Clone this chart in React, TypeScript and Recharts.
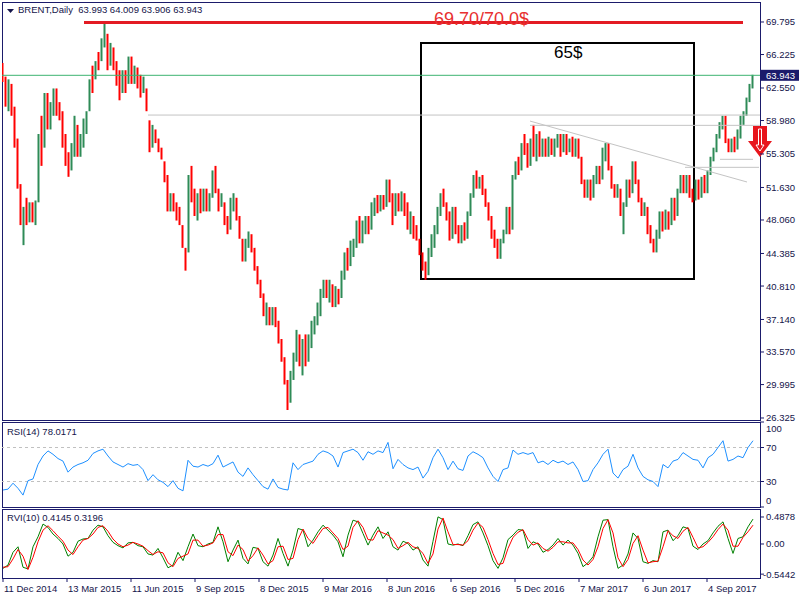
import React from 'react';
import {
  ComposedChart,
  Bar,
  Cell,
  Line,
  XAxis,
  YAxis,
  ReferenceLine,
  ReferenceArea,
  ReferenceDot,
} from 'recharts';

// ---------- DATA ----------
// Each candle aggregates 3 trading days (1 px per day on the time scale)
const BAR_DAYS = 3;
const barOpen = [
  65.3, 63.8, 60.0, 63.0, 60.5, 57.0, 52.0, 45.3, 50.5, 47.8, 50.0, 47.5, 50.0, 59.5, 56.0, 62.0, 58.0, 59.5, 62.5, 61.0,
  60.0, 57.5, 55.5, 53.5, 55.0, 58.5, 55.0, 56.0, 57.5, 60.0, 65.0, 63.5, 66.5, 65.5, 67.0, 68.5, 65.0, 67.0, 65.5, 64.5,
  62.0, 64.5, 63.0, 66.0, 63.0, 64.8, 64.0, 62.0, 62.5, 59.0, 56.0, 58.0, 57.0, 56.0, 54.5, 53.0, 49.0, 51.0, 50.0, 49.5,
  47.5, 45.0, 44.5, 54.0, 51.5, 48.0, 51.5, 49.0, 51.5, 49.0, 50.5, 54.0, 51.5, 49.5, 50.0, 48.5, 47.0, 49.0, 50.5, 48.5,
  46.0, 43.5, 45.0, 46.5, 45.0, 43.0, 41.5, 40.0, 36.5, 38.5, 36.5, 38.5, 37.0, 35.0, 33.0, 30.5, 28.0, 30.5, 32.5, 35.5,
  31.0, 35.5, 32.5, 34.0, 35.5, 36.5, 37.5, 39.5, 41.5, 39.0, 41.0, 38.5, 40.5, 39.5, 41.5, 45.0, 43.0, 44.0, 45.0, 48.5,
  45.5, 46.5, 48.5, 47.0, 48.5, 50.8, 49.0, 50.8, 49.5, 52.5, 51.0, 48.5, 51.0, 49.0, 51.0, 50.0, 46.5, 48.5, 47.5, 46.0,
  44.5, 43.5, 42.0, 44.0, 45.0, 46.5, 48.5, 51.5, 50.0, 49.0, 46.0, 49.5, 47.5, 45.5, 47.8, 46.0, 48.5, 50.5, 53.5, 51.5,
  53.0, 51.5, 50.0, 48.5, 47.0, 46.0, 43.8, 45.5, 46.5, 49.5, 47.0, 52.5, 55.0, 53.5, 57.5, 56.5, 54.0, 58.5, 54.5, 57.8,
  55.0, 57.0, 55.0, 57.0, 55.0, 56.0, 57.5, 55.5, 57.5, 55.5, 57.2, 55.0, 57.0, 55.0, 52.5, 50.5, 52.5, 50.5, 52.0, 54.0,
  52.5, 54.5, 56.5, 54.0, 52.0, 50.5, 51.5, 46.5, 49.5, 52.5, 51.0, 54.5, 52.5, 50.5, 48.5, 49.5, 47.5, 46.0, 44.5, 46.0,
  49.0, 47.0, 49.0, 47.5, 50.5, 48.5, 51.0, 53.0, 51.0, 53.0, 51.5, 50.2, 52.5, 50.5, 53.0, 51.0, 53.0, 54.5, 55.5, 57.0,
  58.0, 59.5, 57.0, 55.5, 57.2, 55.8, 57.0, 58.5, 59.5, 61.0, 62.5,
];
const barClose = [
  63.2, 60.5, 63.5, 59.5, 56.0, 51.5, 47.5, 49.5, 47.5, 50.0, 47.8, 50.2, 57.5, 54.0, 62.0, 58.0, 61.0, 62.5, 59.5, 59.0,
  56.0, 54.0, 52.8, 56.5, 59.5, 55.0, 57.5, 59.2, 60.0, 63.5, 62.0, 65.5, 64.5, 68.0, 69.6, 64.5, 67.5, 64.5, 62.8, 61.2,
  64.5, 62.0, 66.0, 63.0, 65.0, 62.5, 61.5, 63.8, 60.0, 55.5, 58.5, 56.5, 55.5, 54.7, 52.2, 49.0, 51.0, 49.0, 48.0, 47.5,
  45.0, 42.5, 53.0, 50.0, 48.5, 51.0, 48.8, 51.5, 49.0, 51.0, 53.5, 51.0, 49.0, 51.0, 47.5, 46.5, 50.5, 51.0, 48.0, 46.0,
  43.5, 46.0, 46.8, 44.5, 42.5, 41.0, 39.5, 37.5, 39.0, 36.5, 38.5, 36.3, 34.5, 32.5, 30.0, 27.2, 31.5, 33.5, 36.0, 32.0,
  35.0, 32.0, 35.5, 37.0, 37.5, 39.0, 40.5, 41.5, 39.5, 41.5, 38.5, 40.8, 38.8, 42.5, 44.5, 42.5, 45.8, 46.0, 48.0, 45.5,
  48.0, 48.5, 46.5, 50.0, 50.5, 48.8, 50.8, 49.2, 52.5, 50.0, 47.5, 51.0, 49.0, 51.2, 48.5, 47.0, 49.0, 46.0, 45.8, 44.2,
  42.5, 41.5, 45.0, 46.5, 47.5, 49.5, 51.0, 49.5, 48.0, 45.8, 49.5, 46.5, 45.5, 47.5, 45.8, 49.0, 51.0, 53.0, 51.5, 52.8,
  50.8, 49.5, 48.0, 46.0, 45.0, 43.8, 46.0, 47.0, 49.5, 46.5, 53.0, 54.5, 53.0, 56.5, 55.2, 53.8, 57.0, 55.0, 57.5, 55.0,
  57.0, 55.0, 57.2, 55.2, 57.0, 57.5, 55.0, 57.5, 55.2, 57.0, 55.0, 57.0, 54.8, 52.0, 50.5, 52.5, 50.2, 53.0, 54.0, 52.0,
  56.0, 56.5, 53.5, 51.5, 50.5, 52.0, 48.5, 50.0, 52.5, 50.5, 54.5, 52.0, 50.0, 48.5, 50.0, 46.5, 45.5, 44.5, 47.0, 49.0,
  46.8, 49.2, 47.0, 50.5, 48.0, 51.5, 53.0, 51.0, 53.0, 50.5, 50.0, 52.5, 50.3, 52.8, 51.0, 53.5, 55.0, 56.0, 57.5, 58.8,
  59.5, 56.5, 55.5, 57.0, 55.5, 58.0, 59.5, 60.0, 61.5, 63.0, 64.0,
];

// Indicators sampled every 5 trading days
const IND_DAYS = 5;
const rsi = [
  20, 21, 28, 22, 14, 31, 33, 50, 60, 66,
  62, 57, 54, 41, 47, 50, 52, 55, 63, 66,
  68, 60, 53, 50, 47, 51, 49, 50, 44, 31,
  38, 32, 29, 24, 31, 22, 19, 55, 48, 47,
  50, 48, 51, 61, 47, 50, 53, 41, 36, 46,
  38, 31, 24, 21, 33, 23, 21, 20, 52, 44,
  50, 52, 54, 62, 66, 64, 60, 47, 64, 66,
  68, 64, 55, 65, 62, 66, 64, 76, 45, 56,
  50, 46, 44, 47, 34, 42, 58, 68, 58, 44,
  54, 45, 43, 60, 65, 62, 58, 46, 36, 30,
  44, 46, 67, 62, 64, 62, 64, 52, 54, 50,
  55, 52, 54, 50, 53, 44, 30, 31, 44, 52,
  62, 68, 40, 34, 44, 48, 62, 46, 36, 32,
  30, 24, 50, 46, 54, 56, 64, 60, 56, 55,
  46, 58, 62, 70, 78, 54, 56, 60, 58, 70,
  78,
];
const rvi = [
  -0.44, -0.38, -0.15, -0.05, -0.42, -0.45, -0.05, 0.13, 0.36, 0.30,
  0.18, 0.10, 0.00, -0.22, -0.15, 0.05, 0.09, 0.10, 0.25, 0.34,
  0.31, 0.15, 0.03, -0.03, -0.07, 0.02, 0.03, -0.03, -0.05, -0.18,
  -0.20, -0.08, -0.25, -0.43, -0.38, -0.15, -0.30, -0.05, 0.18, -0.03,
  -0.05, 0.00, 0.03, 0.31, 0.04, -0.32, -0.11, 0.07, -0.26, -0.36,
  -0.06, -0.08, -0.32, -0.40, -0.20, 0.10, -0.17, -0.40, -0.11, 0.28,
  0.25, -0.05, 0.07, 0.22, 0.34, 0.25, 0.16, 0.04, -0.23, 0.16,
  0.43, 0.40, 0.19, -0.02, 0.16, 0.31, 0.10, 0.22, -0.05, -0.11,
  0.05, 0.01, -0.11, -0.05, -0.29, -0.40, 0.05, 0.49, 0.44, 0.00,
  -0.02, 0.00, -0.03, 0.15, 0.35, 0.40, 0.20, -0.03, -0.30, -0.44,
  -0.25, 0.08, 0.16, 0.26, 0.25, -0.08, 0.04, 0.00, -0.15, -0.10,
  -0.02, 0.10, -0.02, 0.07, -0.02, -0.17, -0.41, -0.34, -0.23, 0.13,
  0.43, 0.44, -0.05, -0.44, -0.38, -0.18, 0.20, 0.10, -0.32, -0.35,
  -0.30, -0.32, 0.22, 0.25, 0.06, 0.15, 0.31, 0.28, -0.04, -0.10,
  0.00, 0.06, 0.20, 0.32, 0.40, 0.10, -0.17, 0.10, 0.13, 0.31,
  0.45,
];
const rviSignal = [
  -0.42, -0.41, -0.27, -0.10, -0.22, -0.46, -0.24, 0.04, 0.25, 0.33,
  0.24, 0.14, 0.05, -0.11, -0.19, -0.05, 0.07, 0.10, 0.18, 0.30,
  0.33, 0.23, 0.09, 0.00, -0.05, -0.02, 0.03, 0.00, -0.04, -0.12,
  -0.19, -0.14, -0.16, -0.34, -0.41, -0.26, -0.22, -0.18, 0.07, 0.07,
  -0.04, -0.02, 0.02, 0.17, 0.17, -0.14, -0.21, -0.02, -0.10, -0.31,
  -0.21, -0.07, -0.20, -0.36, -0.30, -0.05, -0.04, -0.28, -0.26, 0.08,
  0.27, 0.10, 0.01, 0.15, 0.28, 0.30, 0.20, 0.10, -0.10, -0.04,
  0.30, 0.42, 0.30, 0.08, 0.07, 0.24, 0.20, 0.16, 0.08, -0.08,
  -0.03, 0.03, -0.05, -0.08, -0.17, -0.35, -0.18, 0.27, 0.47, 0.22,
  -0.01, -0.01, -0.02, 0.06, 0.25, 0.38, 0.30, 0.08, -0.17, -0.37,
  -0.35, -0.08, 0.12, 0.21, 0.26, 0.08, -0.02, 0.02, -0.08, -0.13,
  -0.06, 0.04, 0.04, 0.02, 0.02, -0.10, -0.29, -0.38, -0.28, -0.05,
  0.28, 0.44, 0.20, -0.25, -0.41, -0.28, 0.01, 0.15, -0.11, -0.34,
  -0.32, -0.31, -0.05, 0.24, 0.15, 0.10, 0.23, 0.30, 0.12, -0.07,
  -0.05, 0.03, 0.13, 0.26, 0.36, 0.25, -0.04, -0.04, 0.12, 0.22,
  0.34,
];

const TIME_TICK_DAYS = 64;
const timeTickLabels = [
  '11 Dec 2014', '13 Mar 2015', '11 Jun 2015', '9 Sep 2015', '8 Dec 2015', '9 Mar 2016',
  '8 Jun 2016', '6 Sep 2016', '5 Dec 2016', '7 Mar 2017', '6 Jun 2017', '4 Sep 2017',
];
const priceTicks = [69.795, 66.225, 63.943, 62.55, 58.98, 55.305, 51.63, 48.06, 44.385, 40.81, 37.14, 33.57, 29.995, 26.325];
const LAST_PRICE = 63.943;
const rsiTicks = [100, 70, 30, 0];
const rviTicks = [0.4878, 0, -0.5442];
const rviTickLabels = ['0.4878', '0.00', '-0.5442'];

const HEADER = 'BRENT,Daily  63.993 64.009 63.906 63.943';
const RSI_LABEL = 'RSI(14) 78.0171';
const RVI_LABEL = 'RVI(10) 0.4145 0.3196';
const TARGET_TEXT = '69.70/70.0$';
const BOX_TEXT = '65$';

// ---------- derived tables ----------
const candles = barOpen.map((o, i) => {
  const c = barClose[i];
  return { d: i * BAR_DAYS, range: [Math.min(o, c), Math.max(o, c)], up: c >= o };
});
const rsiData = rsi.map((v, i) => ({ d: i * IND_DAYS, v }));
const rviData = rvi.map((v, i) => ({ d: i * IND_DAYS, v, s: rviSignal[i] }));
const timeTicks = timeTickLabels.map((_, i) => i * TIME_TICK_DAYS);

// ---------- styles ----------
const X_DOMAIN: [number, number] = [-1, 757];
const PRICE_DOMAIN: [number, number] = [26.105, 71.99];
const RSI_DOMAIN: [number, number] = [0, 100];
const RVI_DOMAIN: [number, number] = [-0.614, 0.632];
const NAVY = '#1b1b6b';
const TEXT = '#14144a';
const GREEN = '#2e8b57';
const RED = '#ff0000';
const FONT = "'Liberation Sans', Arial, sans-serif";
const FS = 9.5;

const PriceTick = (props: any) => {
  const { x, y, payload } = props;
  const v = payload.value as number;
  const isLast = Math.abs(v - LAST_PRICE) < 1e-6;
  return (
    <g>
      <line x1={x} x2={x + 4} y1={y} y2={y} stroke={NAVY} />
      {isLast && <rect x={x + 1} y={y - 5.5} width={38} height={11} fill={NAVY} />}
      <text x={x + 6} y={y + 3.5} fontSize={FS} fontFamily={FONT} fill={isLast ? '#ffffff' : TEXT}>
        {v.toFixed(3)}
      </text>
    </g>
  );
};

const RsiTick = (props: any) => {
  const { x, y, payload } = props;
  const v = payload.value as number;
  const dy = v === 100 ? 6 : v === 0 ? -7 : 0;
  return (
    <g>
      <line x1={x} x2={x + 4} y1={y} y2={y} stroke={NAVY} />
      <text x={x + 6} y={y + dy + 3.5} fontSize={FS} fontFamily={FONT} fill={TEXT}>
        {v}
      </text>
    </g>
  );
};

const RviTick = (props: any) => {
  const { x, y, payload } = props;
  const idx = rviTicks.findIndex((t) => Math.abs(t - payload.value) < 1e-9);
  const label = idx >= 0 ? rviTickLabels[idx] : String(payload.value);
  return (
    <g>
      <line x1={x} x2={x + 4} y1={y} y2={y} stroke={NAVY} />
      <text x={x + (label.startsWith('-') ? 3 : 6)} y={y + 3.5} fontSize={FS} fontFamily={FONT} fill={TEXT}>
        {label}
      </text>
    </g>
  );
};

const TimeTick = (props: any) => {
  const { x, y, payload } = props;
  const idx = Math.round(payload.value / TIME_TICK_DAYS);
  return (
    <g>
      <line x1={x} x2={x} y1={y} y2={y + 4} stroke={NAVY} />
      <text x={x + 1} y={y + 14} fontSize={FS} fontFamily={FONT} fill={TEXT}>
        {timeTickLabels[idx]}
      </text>
    </g>
  );
};

const ArrowShape = (p: any) => {
  const { cx, cy } = p;
  const outer = `M ${cx - 7} ${cy - 14} L ${cx + 7} ${cy - 14} L ${cx + 7} ${cy + 1} L ${cx + 12} ${cy + 1} L ${cx} ${cy + 17} L ${cx - 12} ${cy + 1} L ${cx - 7} ${cy + 1} Z`;
  const inner = `M ${cx - 1.5} ${cy - 11} L ${cx + 1.5} ${cy - 11} L ${cx + 1.5} ${cy + 5} L ${cx + 4} ${cy + 5} L ${cx} ${cy + 11} L ${cx - 4} ${cy + 5} L ${cx - 1.5} ${cy + 5} Z`;
  return (
    <g>
      <path d={outer} fill="#e8151c" />
      <path d={inner} fill="none" stroke="#ffffff" strokeWidth={1} />
    </g>
  );
};

export default function App() {
  return (
    <div
      style={{
        position: 'absolute',
        left: 0,
        top: 0,
        width: 800,
        height: 600,
        background: '#ffffff',
        fontFamily: FONT,
        overflow: 'hidden',
      }}
    >
      {/* RSI window */}
      <div style={{ position: 'absolute', left: 0, top: 421 }}>
        <ComposedChart width={800} height={88} data={rsiData} margin={{ top: 1, right: 0, bottom: 2, left: 2 }}>
          <XAxis dataKey="d" type="number" domain={X_DOMAIN} hide allowDataOverflow />
          <YAxis
            orientation="right"
            width={40}
            domain={RSI_DOMAIN}
            ticks={rsiTicks}
            interval={0}
            tick={<RsiTick />}
            tickLine={false}
            axisLine={false}
            tickSize={0}
            tickMargin={0}
            allowDataOverflow
            type="number"
          />
          <ReferenceArea
            x1={X_DOMAIN[0]}
            x2={X_DOMAIN[1]}
            y1={RSI_DOMAIN[0]}
            y2={RSI_DOMAIN[1]}
            fill="none"
            stroke={NAVY}
            strokeWidth={1}
            ifOverflow="visible"
            shapeRendering="crispEdges"
          />
          <ReferenceLine y={70} stroke="#c0c0c0" strokeDasharray="3 3" />
          <ReferenceLine y={30} stroke="#c0c0c0" strokeDasharray="3 3" />
          <Line dataKey="v" type="linear" stroke="#1e90ff" strokeWidth={1} dot={false} activeDot={false} isAnimationActive={false} />
        </ComposedChart>
      </div>

      {/* RVI window */}
      <div style={{ position: 'absolute', left: 0, top: 508 }}>
        <ComposedChart width={800} height={92} data={rviData} margin={{ top: 1, right: 0, bottom: 0, left: 2 }}>
          <XAxis
            dataKey="d"
            type="number"
            domain={X_DOMAIN}
            ticks={timeTicks}
            interval={0}
            height={22}
            tick={<TimeTick />}
            tickLine={false}
            axisLine={false}
            tickSize={0}
            tickMargin={0}
            allowDataOverflow
          />
          <YAxis
            orientation="right"
            width={40}
            domain={RVI_DOMAIN}
            ticks={rviTicks}
            interval={0}
            tick={<RviTick />}
            tickLine={false}
            axisLine={false}
            tickSize={0}
            tickMargin={0}
            allowDataOverflow
            type="number"
          />
          <ReferenceArea
            x1={X_DOMAIN[0]}
            x2={X_DOMAIN[1]}
            y1={RVI_DOMAIN[0]}
            y2={RVI_DOMAIN[1]}
            fill="none"
            stroke={NAVY}
            strokeWidth={1}
            ifOverflow="visible"
            shapeRendering="crispEdges"
          />
          <Line dataKey="v" type="linear" stroke="#008000" strokeWidth={1} dot={false} activeDot={false} isAnimationActive={false} />
          <Line dataKey="s" type="linear" stroke="#ff0000" strokeWidth={1} dot={false} activeDot={false} isAnimationActive={false} />
        </ComposedChart>
      </div>

      {/* Main price window (drawn last so its bottom label is not covered) */}
      <div style={{ position: 'absolute', left: 0, top: 0 }}>
        <ComposedChart width={800} height={426} data={candles} margin={{ top: 2, right: 0, bottom: 6, left: 2 }}>
          <XAxis dataKey="d" type="number" domain={X_DOMAIN} hide allowDataOverflow />
          <YAxis
            orientation="right"
            width={40}
            domain={PRICE_DOMAIN}
            ticks={priceTicks}
            interval={0}
            tick={<PriceTick />}
            tickLine={false}
            axisLine={false}
            tickSize={0}
            tickMargin={0}
            allowDataOverflow
            type="number"
          />
          <ReferenceArea
            x1={X_DOMAIN[0]}
            x2={X_DOMAIN[1]}
            y1={PRICE_DOMAIN[0]}
            y2={PRICE_DOMAIN[1]}
            fill="none"
            stroke={NAVY}
            strokeWidth={1}
            ifOverflow="visible"
            shapeRendering="crispEdges"
          />
          <ReferenceArea
            x1={418}
            x2={691}
            y1={41.57}
            y2={67.49}
            fill="none"
            fillOpacity={0}
            stroke="#000000"
            strokeWidth={2}
            ifOverflow="visible"
          />
          <ReferenceLine segment={[{ x: 145, y: 59.58 }, { x: 757, y: 59.58 }]} stroke="#c4c4c4" strokeWidth={1} ifOverflow="visible" />
          <ReferenceLine segment={[{ x: 527, y: 58.45 }, { x: 757, y: 58.45 }]} stroke="#c4c4c4" strokeWidth={1} ifOverflow="visible" />
          <ReferenceLine segment={[{ x: 527, y: 58.92 }, { x: 744, y: 52.23 }]} stroke="#c4c4c4" strokeWidth={1} ifOverflow="visible" />
          <ReferenceLine segment={[{ x: 717, y: 54.72 }, { x: 750, y: 54.72 }]} stroke="#c4c4c4" strokeWidth={1} ifOverflow="visible" />
          <ReferenceLine segment={[{ x: 682, y: 53.84 }, { x: 756, y: 53.84 }]} stroke="#c4c4c4" strokeWidth={1} ifOverflow="visible" />
          <ReferenceLine y={LAST_PRICE} stroke="#3cb371" strokeWidth={1} />
          <ReferenceDot
            x={431}
            y={69.47}
            r={0}
            ifOverflow="visible"
            shape={(p: any) => (
              <text x={p.cx} y={p.cy} fontSize={18} fontFamily={FONT} fill="#e83030">
                {TARGET_TEXT}
              </text>
            )}
          />
          <ReferenceLine segment={[{ x: 81, y: 69.75 }, { x: 740, y: 69.75 }]} stroke="#e31b23" strokeWidth={3} ifOverflow="visible" />
          <ReferenceDot
            x={551}
            y={65.84}
            r={0}
            ifOverflow="visible"
            shape={(p: any) => (
              <text x={p.cx} y={p.cy} fontSize={17} fontFamily={FONT} fill="#000000">
                {BOX_TEXT}
              </text>
            )}
          />
          <Bar dataKey="range" barSize={2} isAnimationActive={false}>
            {candles.map((c, i) => (
              <Cell key={i} fill={c.up ? GREEN : RED} />
            ))}
          </Bar>
          <ReferenceDot x={757} y={56.84} r={0} ifOverflow="visible" shape={(p: any) => <ArrowShape {...p} />} />
        </ComposedChart>
      </div>

      {/* Window captions */}
      <svg style={{ position: 'absolute', left: 7, top: 9 }} width={7} height={5}>
        <polygon points="0,0 7,0 3.5,4" fill={TEXT} />
      </svg>
      <div style={{ position: 'absolute', left: 18, top: 4, fontSize: FS, lineHeight: '12px', color: TEXT, whiteSpace: 'pre' }}>
        {HEADER}
      </div>
      <div style={{ position: 'absolute', left: 7, top: 426, fontSize: FS, lineHeight: '12px', color: TEXT, whiteSpace: 'pre' }}>
        {RSI_LABEL}
      </div>
      <div style={{ position: 'absolute', left: 7, top: 512, fontSize: FS, lineHeight: '12px', color: TEXT, whiteSpace: 'pre' }}>
        {RVI_LABEL}
      </div>
    </div>
  );
}
